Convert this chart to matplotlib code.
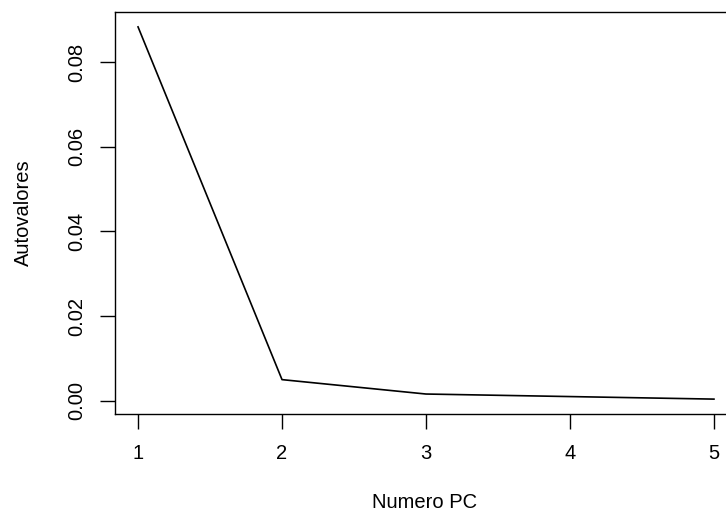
import matplotlib
matplotlib.use("Agg")
from matplotlib import pyplot as plt
import numpy as np

# eigenvalues
num_pc = [1, 2, 3, 4, 5]
autovalores = [0.0883, 0.0050, 0.0016, 0.0010, 0.0004]
y_ticks = [0.00, 0.02, 0.04, 0.06, 0.08]
y_tick_labels = ["0.00", "0.02", "0.04", "0.06", "0.08"]

plt.rcParams['font.family'] = ['Liberation Sans', 'DejaVu Sans']

fig = plt.figure(figsize=(7.26, 5.12), dpi=100)
# R-style plot region, right edge runs past the picture like the original
ax = fig.add_axes([115 / 726, 1 - 414 / 512, 622 / 726, 402 / 512])

ax.plot(num_pc, autovalores, color="black", linewidth=1.2)

# R pads the data range by 4% on each side
yr = max(autovalores) - min(autovalores)
ax.set_ylim(min(autovalores) - 0.04 * yr, max(autovalores) + 0.04 * yr)
xr = max(num_pc) - min(num_pc)
ax.set_xlim(min(num_pc) - 0.04 * xr, max(num_pc) + 0.04 * xr)

ax.set_xticks(num_pc)
ax.set_xticklabels([str(n) for n in num_pc])
ax.set_yticks(y_ticks)
ax.set_yticklabels(y_tick_labels, rotation=90, va="center")

for s in ax.spines.values():
	s.set_color("black")
	s.set_linewidth(1.0)

ax.tick_params(direction="out", length=10.5, width=1.0, labelsize=14.5, color="black")
ax.tick_params(axis="x", pad=11)
ax.tick_params(axis="y", pad=10)

ax.set_xlabel("Numero PC", fontsize=14.5)
ax.set_ylabel("Autovalores", fontsize=14.5)
# put the axis titles where R puts them (in axes fractions)
ax.xaxis.set_label_coords((425 - 115) / 622, -(502 - 414) / 402)
ax.xaxis.label.set_va("center")
ax.yaxis.set_label_coords(-(115 - 23) / 622, 0.5)
ax.yaxis.label.set_va("center")

fig.savefig("out.png", dpi=100)
